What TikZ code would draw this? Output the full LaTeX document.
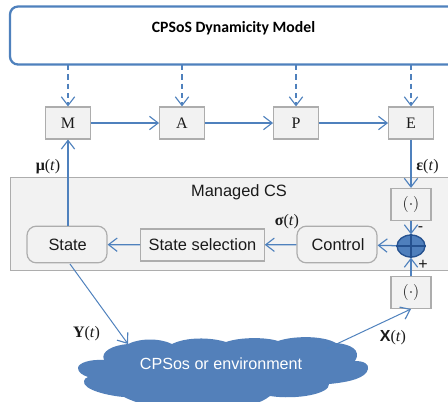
\documentclass[tikz,border=0pt]{standalone}
\usepackage{fontspec}
\setmainfont{Liberation Sans}
\newfontfamily\serf{Liberation Serif}
\newfontfamily\titlef{Carlito}
\usetikzlibrary{arrows.meta,shapes.geometric}
\definecolor{lnblue}{HTML}{4F81BD}
\definecolor{cldblue}{HTML}{5380BA}
\definecolor{sumblue}{HTML}{4F7FBC}
\definecolor{sumline}{HTML}{25518F}
\definecolor{boxfill}{HTML}{F2F2F2}
\definecolor{boxline}{HTML}{ADADAD}
\definecolor{txt}{HTML}{1A1A1A}
\tikzset{
 x=0.75pt,y=-0.75pt,
 conn/.style={draw=lnblue,line width=0.95pt,-{Straight Barb[length=6.5pt,width=10pt,line width=0.85pt]}},
 thinconn/.style={conn,line width=0.75pt},
 dashconn/.style={conn,dash pattern=on 4pt off 3pt},
 sq/.style={draw=boxline,fill=boxfill,line width=0.9pt,inner sep=0pt,anchor=center,text=txt},
 mape/.style={sq,minimum width=33.5pt,minimum height=24pt,font=\serf\fontsize{12}{14}\selectfont},
 dotbox/.style={sq,minimum width=30pt,minimum height=24pt,font=\serf\fontsize{12}{14}\selectfont},
 rbox/.style={sq,rounded corners=7pt,minimum width=60pt,minimum height=27.5pt,font=\fontsize{12.3}{14}\selectfont},
 lab/.style={inner sep=0pt,text=txt,font=\serf\fontsize{12}{14}\selectfont},
 sign/.style={inner sep=0pt,text=txt,font=\fontsize{12}{14}\selectfont},
}
\newcommand{\tvar}{{\serf(\textit{t})}}
\begin{document}
\begin{tikzpicture}
\useasboundingbox (0,0) rectangle (448,401);
\clip (0,0) rectangle (448,401);
% top box
\draw[lnblue,line width=1.7pt,rounded corners=6pt] (470,6.5) -- (10,6.5) -- (10,64.5) -- (470,64.5);
\node[inner sep=0pt,text=black,font=\titlef\bfseries\fontsize{11.8}{14}\selectfont] (title) at (233.5,28) {CPSoS Dynamicity Model};
\coordinate (topm) at (68,65);
\coordinate (topa) at (182,65);
\coordinate (topp) at (296,65);
\coordinate (tope) at (411,65);
% managed
\node[sq,minimum width=345pt,minimum height=69.75pt,anchor=north west] (cs) at (10,177) {};
\node[inner sep=0pt,text=txt,font=\fontsize{12.3}{14}\selectfont] (cslabel) at (239,192) {Managed CS};
% MAPE
\node[mape] (M) at (68,123) {M};
\node[mape] (A) at (182,123) {A};
\node[mape] (P) at (296,123) {P};
\node[mape] (E) at (411,123) {E};
\draw[dashconn] (topm) -- (M);
\draw[dashconn] (topa) -- (A);
\draw[dashconn] (topp) -- (P);
\draw[dashconn] (tope) -- (E);
\draw[conn] (M) -- (A);
\draw[conn] (A) -- (P);
\draw[conn] (P) -- (E);
% inner
\node[rbox] (state) at (67,244.5) {\hspace*{1pt}State};
\node[sq,minimum width=92.5pt,minimum height=24pt,font=\fontsize{12.3}{14}\selectfont] (sel) at (202.5,245) {State selection};
\node[rbox] (control) at (337,244.5) {\hspace*{1.5pt}Control};
\node[dotbox] (up) at (411,204.5) {$(\cdot)$};
\node[dotbox] (down) at (411,292.5) {$(\cdot)$};
\node[draw=sumline,fill=sumblue,line width=1pt,shape=ellipse,inner sep=0pt,minimum width=21pt,minimum height=16.5pt] (sum) at (411,246) {};
\draw[conn] (E) -- (up);
\draw[conn] (up) -- (sum);
\draw[conn] (down) -- (sum);
\draw[conn] (sum) -- (control);
\draw[conn] (control) -- (sel);
\draw[conn] (sel) -- (state);
\draw[sumline,line width=1pt] (sum.north) -- (sum.south) (sum.west) -- (sum.east);
\coordinate (stateup) at (68,226);
\coordinate (Mdown) at (68,139.5);
\draw[conn] (stateup) -- (Mdown);
% cloud
\fill[cldblue] (78,368)
 .. controls (78,363) and (90,359) .. (104,360)
 .. controls (100,351) and (114,345) .. (128,344)
 .. controls (140,338) and (160,338) .. (172,344)
 .. controls (186,337) and (210,337) .. (226,342)
 .. controls (240,337) and (266,337) .. (278,341)
 .. controls (292,336) and (322,335) .. (336,343)
 .. controls (350,344) and (362,350) .. (355,361)
 .. controls (364,361) and (369,364) .. (368,369)
 .. controls (366,378) and (350,382) .. (329,384)
 .. controls (330,394) and (296,400) .. (270,396)
 .. controls (260,404) and (240,410) .. (210,408)
 .. controls (190,412) and (150,410) .. (124,397)
 .. controls (110,396) and (82,390) .. (84,381)
 .. controls (84,379) and (86,378) .. (88,377)
 .. controls (82,375) and (78,372) .. (78,368) -- cycle;
\node[inner sep=0pt,text=white,font=\fontsize{12.1}{14}\selectfont] (cloud) at (221,364) {CPSos or environment};
\coordinate (cloudout) at (327,348.5);
\coordinate (cloudin) at (128,344);
\coordinate (stateout) at (70,264);
\coordinate (downin) at (411,309);
\draw[thinconn] (stateout) -- (cloudin);
\draw[thinconn] (cloudout) -- (downin);
% labels
\node[lab] (mu) at (48,167) {\textbf{μ}\tvar};
\node[lab] (eps) at (427.5,167) {\textbf{ε}\tvar};
\node[lab] (sig) at (287,221.5) {\textbf{σ}\tvar};
\node[lab] (Y) at (86.5,334) {\textbf{Y}\tvar};
\node[inner sep=0pt,text=txt,font=\fontsize{12}{14}\selectfont] (X) at (393,338) {\textbf{X}\tvar};
\node[sign] (minus) at (420.5,229) {-};
\node[sign] (plus) at (423,265) {+};
\end{tikzpicture}
\end{document}
